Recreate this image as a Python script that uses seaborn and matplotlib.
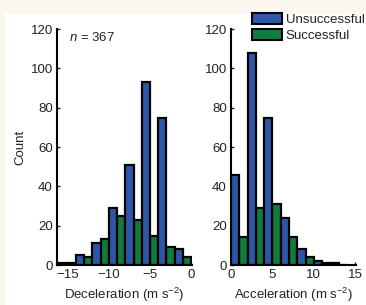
import pandas as pd
import matplotlib.pyplot as plt
import seaborn as sns
from matplotlib.patches import Patch, Rectangle

# bin centres (bin width 2 m s^-2) and counts
dec_centers = [-15, -13, -11, -9, -7, -5, -3, -1]
dec_unsuccessful = [1, 5, 11, 29, 51, 93, 75, 8]
dec_successful = [1, 4, 13, 25, 23, 15, 9, 4]

acc_centers = [1, 3, 5, 7, 9, 11, 13]
acc_unsuccessful = [46, 108, 75, 24, 8, 2, 1]
acc_successful = [14, 29, 31, 14, 4, 1, 0]

outcomes = ['Unsuccessful', 'Successful']
colors = {'Unsuccessful': '#2e56a8', 'Successful': '#107d3f'}
n_label = '$n$ = 367'

sns.set_style('ticks')
plt.rcParams['font.family'] = ['Liberation Sans', 'DejaVu Sans']
plt.rcParams['mathtext.fontset'] = 'custom'
plt.rcParams['mathtext.rm'] = 'Liberation Sans'
plt.rcParams['mathtext.it'] = 'Liberation Sans:italic'
plt.rcParams['font.size'] = 9.5
plt.rcParams['text.color'] = '#222222'
plt.rcParams['axes.labelcolor'] = '#222222'
plt.rcParams['xtick.color'] = '#222222'
plt.rcParams['ytick.color'] = '#222222'


def to_long(centers, uns, suc):
    df = pd.DataFrame({'value': centers * 2,
                       'count': uns + suc,
                       'outcome': ['Unsuccessful'] * len(uns) + ['Successful'] * len(suc)})
    return df


dec = to_long(dec_centers, dec_unsuccessful, dec_successful)
acc = to_long(acc_centers, acc_unsuccessful, acc_successful)

fig = plt.figure(figsize=(3.66, 3.05), dpi=100, facecolor='#fbf6ee')
fig.patches.append(Rectangle((5 / 366, 0), 1, 1 - 12.5 / 305, transform=fig.transFigure,
                             facecolor='white', edgecolor='none', zorder=-10))
ax1 = fig.add_axes([57 / 366, 40 / 305, 135 / 366, 236 / 305])
ax2 = fig.add_axes([231 / 366, 40 / 305, 125 / 366, 236 / 305])

sns.histplot(dec, x='value', weights='count', hue='outcome', hue_order=outcomes,
             multiple='dodge', binwidth=2, binrange=(-16, 0), shrink=1, palette=colors,
             edgecolor='black', linewidth=1.6, alpha=1, legend=False, ax=ax1)
sns.histplot(acc, x='value', weights='count', hue='outcome', hue_order=outcomes,
             multiple='dodge', binwidth=2, binrange=(0, 14), shrink=1, palette=colors,
             edgecolor='black', linewidth=1.6, alpha=1, legend=False, ax=ax2)

ax1.set_xlim(-16.3, 0.1)
ax2.set_xlim(0, 15.1)
ax1.set_xticks([-15, -10, -5, 0])
ax1.set_xticklabels(['\u221215', '\u221210', '\u22125', '0'])
ax2.set_xticks([0, 5, 10, 15])
for ax in (ax1, ax2):
    ax.set_facecolor('none')
    ax.set_ylim(0, 120)
    ax.set_yticks(range(0, 121, 20))
    ax.tick_params(direction='in', length=2.5, width=1, labelsize=9.5, pad=3)
    for s in ('left', 'bottom'):
        ax.spines[s].set_linewidth(1.5)
        ax.spines[s].set_color('black')
    sns.despine(ax=ax)

ax1.set_ylabel('Count', labelpad=3)
ax2.set_ylabel('')
ax1.set_xlabel('Deceleration (m s$^{-2}$)', labelpad=3)
ax2.set_xlabel('Acceleration (m s$^{-2}$)', labelpad=3)
ax1.text(0.09, 0.99, n_label, transform=ax1.transAxes, va='top', ha='left', fontsize=9.5)

handles = [Patch(facecolor=colors[o], edgecolor='black', linewidth=1.5) for o in outcomes]
fig.legend(handles, outcomes, loc='upper left', bbox_to_anchor=(252 / 366, 1 - 13 / 305),
           frameon=False, fontsize=9.5, handlelength=2.3, handleheight=0.85,
           handletextpad=0.25, labelspacing=0.25, borderpad=0, borderaxespad=0)

fig.savefig('out.png', dpi=100, facecolor=fig.get_facecolor())
